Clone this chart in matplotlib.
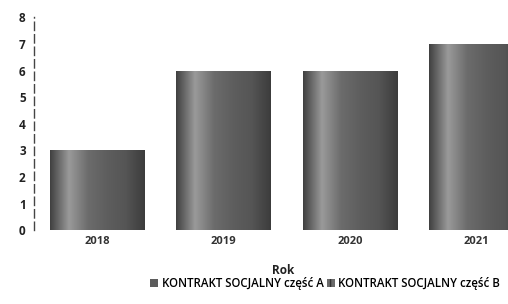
import matplotlib.pyplot as plt
import numpy as np
from matplotlib.colors import LinearSegmentedColormap

years = ["2018", "2019", "2020", "2021"]
part_a = [3, 6, 6, 7]
part_b = [0, 0, 0, 0]
y_ticks = [0, 1, 2, 3, 4, 5, 6, 7, 8]

plt.rcParams['font.family'] = ['Open Sans', 'DejaVu Sans']

fig = plt.figure(figsize=(5.08, 3.04), dpi=100)
ax = fig.add_axes([0.067, 0.243, 0.933, 0.70])

x = np.arange(len(years))
bars_a = ax.bar(x, part_a, width=0.75, color='#5c5c5c', label='KONTRAKT SOCJALNY część A')
bars_b = ax.bar(x, part_b, width=0.75, bottom=part_a, color='#6a6a6a', hatch='|||',
                edgecolor='#333333', linewidth=0, label='KONTRAKT SOCJALNY część B')

# gradient shading like the scanned bars
shade = LinearSegmentedColormap.from_list(
    'shade', ['#404040', '#9a9a9a', '#6c6c6c', '#5e5e5e', '#555555', '#3c3c3c'])
grad = np.linspace(0, 1, 256).reshape(1, -1)
for b in bars_a:
    bx, by = b.get_x(), b.get_y()
    im = ax.imshow(grad, cmap=shade, aspect='auto', zorder=2,
                   extent=[bx, bx + b.get_width(), by, by + b.get_height()])
    im.set_clip_path(b)

ax.set_xlim(-0.5, 3.25)
ax.set_ylim(0, 8)
ax.set_xticks(x)
ax.set_xticklabels(years, fontsize=8, fontweight='bold', color='#333333')
ax.set_yticks(y_ticks)
ax.set_yticklabels([str(v) for v in y_ticks], fontsize=8.5, fontweight='bold', color='#222222')
ax.tick_params(length=0, pad=6)
ax.tick_params(axis='x', pad=4)

for s in ['top', 'right', 'bottom']:
    ax.spines[s].set_visible(False)
ax.spines['left'].set_color('#444444')
ax.spines['left'].set_linewidth(1.0)
ax.spines['left'].set_linestyle((0, (6, 3)))

ax.set_xlabel('Rok', fontsize=8.5, fontweight='bold', color='#222222')
ax.xaxis.set_label_coords(0.525, -0.16)

fig.legend(handles=[bars_a, bars_b], loc='center', bbox_to_anchor=(0.64, 0.066),
           ncol=2, frameon=False, handlelength=0.7, handleheight=0.7,
           handletextpad=0.3, columnspacing=0.3,
           prop={'weight': 'semibold', 'size': 8.3})

fig.savefig('out.png', dpi=100)
